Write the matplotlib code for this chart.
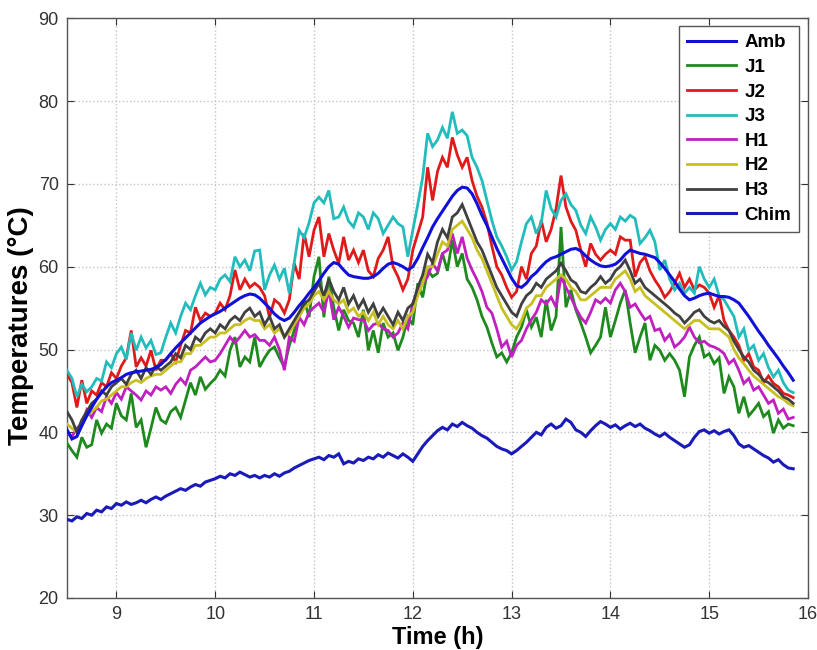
import numpy as np
import matplotlib
matplotlib.use("Agg")
import matplotlib.pyplot as plt

# time grid (h), 0.05 h sampling from 8.50 to 15.85
time_h = np.round(8.5 + 0.05 * np.arange(148), 2)

amb = [40.3, 39.2, 39.5, 40.8, 42.0, 43.0, 44.0, 44.8, 45.5, 46.0,
       46.3, 46.6, 47.0, 47.2, 47.3, 47.4, 47.5, 47.6, 47.8, 48.2,
       48.8, 49.5, 50.2, 50.8, 51.4, 52.0, 52.6, 53.2, 53.6, 54.0,
       54.3, 54.6, 55.0, 55.4, 55.8, 56.2, 56.5, 56.7, 56.6, 56.2,
       55.6, 55.0, 54.3, 53.8, 53.5, 53.8, 54.5, 55.3, 56.0, 56.8,
       57.5, 58.3, 59.2, 60.0, 60.5, 60.3, 59.6, 59.0, 58.8, 58.7,
       58.6, 58.6, 58.8, 59.2, 59.8, 60.3, 60.5, 60.3, 60.0, 59.6,
       60.0, 61.0, 62.3, 63.5, 64.8, 65.8, 66.7, 67.6, 68.5, 69.2,
       69.6, 69.5, 68.8, 67.6, 66.2, 65.0, 63.6, 62.2, 61.0, 59.8,
       58.6, 57.7, 57.5, 58.0, 58.8, 59.3, 60.0, 60.6, 61.0, 61.2,
       61.5, 61.8, 62.1, 62.2, 61.9, 61.3, 60.8, 60.4, 60.1, 60.0,
       60.1, 60.3, 60.8, 61.5, 62.0, 61.8, 61.6, 61.5, 61.3, 61.1,
       60.5, 59.8, 59.0, 58.2, 57.3, 56.5, 56.0, 56.2, 56.5, 56.7,
       56.8, 56.6, 56.4, 56.4, 56.3, 56.0, 55.6, 54.8, 54.0, 53.1,
       52.2, 51.4, 50.5, 49.7, 48.9, 48.0, 47.2, 46.3]

j1 = [38.7, 37.8, 37.0, 39.4, 38.2, 38.5, 41.5, 39.9, 41.0, 40.5,
      43.5, 42.0, 41.5, 44.7, 40.6, 41.5, 38.2, 40.5, 43.0, 41.5,
      41.1, 42.5, 43.0, 41.8, 43.9, 46.0, 44.5, 46.7, 45.2, 45.9,
      46.5, 47.5, 46.8, 49.9, 51.5, 47.9, 49.1, 48.5, 51.5, 47.9,
      49.0, 49.9, 50.3, 49.0, 47.9, 50.5, 52.3, 54.0, 56.0, 53.9,
      58.8, 61.2, 53.9, 58.8, 55.1, 52.3, 54.8, 53.5, 53.2, 51.5,
      54.8, 49.9, 52.3, 49.6, 53.2, 51.5, 52.0, 49.9, 51.5, 53.9,
      53.0, 58.0, 56.3, 59.6, 58.8, 59.2, 61.6, 59.5, 63.2, 60.0,
      61.6, 58.5, 57.5, 56.0, 54.0, 52.7, 50.8, 49.1, 49.6, 48.5,
      49.6, 51.5, 52.7, 54.8, 52.7, 53.9, 51.5, 56.0, 52.3, 54.0,
      64.8, 55.1, 57.2, 54.8, 53.2, 51.5, 49.6, 50.5, 51.5, 55.1,
      51.5, 53.5, 55.6, 57.2, 53.2, 49.6, 51.5, 53.2, 48.7, 50.5,
      49.9, 48.7, 49.5, 48.7, 47.5, 44.3, 49.1, 50.5, 51.5, 49.1,
      49.5, 48.3, 49.0, 44.7, 46.7, 45.5, 42.3, 44.3, 42.0, 42.7,
      43.5, 41.9, 42.5, 39.9, 41.5, 40.5, 41.0, 40.8]

j2 = [47.0, 46.0, 43.0, 46.3, 43.5, 45.0, 44.5, 46.0, 45.5, 47.2,
      46.5, 48.0, 49.0, 52.3, 47.9, 49.0, 48.0, 49.9, 47.5, 48.7,
      48.7, 49.5, 48.5, 50.5, 52.3, 52.0, 55.1, 53.5, 54.4, 54.0,
      54.4, 55.6, 54.8, 56.5, 59.6, 57.2, 58.5, 57.5, 58.0, 57.5,
      56.5, 53.9, 56.0, 55.5, 54.4, 56.0, 60.4, 58.5, 64.0, 61.2,
      64.4, 66.0, 61.2, 64.0, 62.0, 60.4, 63.6, 60.8, 62.0, 60.5,
      62.0, 59.5, 58.8, 61.0, 62.0, 63.6, 60.0, 58.8, 57.2, 58.5,
      62.0, 64.0, 66.0, 72.0, 68.0, 71.5, 73.2, 72.0, 75.6, 73.5,
      72.0, 73.2, 70.4, 68.5, 67.2, 65.3, 62.5, 60.0, 59.0, 57.5,
      56.3, 57.0, 60.0, 58.5, 61.6, 62.5, 65.6, 63.0, 64.5, 67.0,
      71.0, 67.2, 65.5, 64.4, 62.0, 60.0, 62.8, 61.5, 60.8, 61.5,
      62.0, 61.5, 63.6, 63.2, 63.2, 58.8, 60.5, 61.2, 59.5, 58.4,
      57.5, 56.3, 57.0, 58.0, 59.2, 57.5, 58.5, 57.2, 57.8, 57.5,
      56.8, 55.1, 56.5, 53.5, 52.3, 51.5, 50.5, 48.7, 49.5, 47.9,
      47.5, 46.0, 46.8, 45.9, 45.5, 44.7, 44.5, 44.2]

j3 = [47.5, 46.5, 44.3, 45.8, 44.9, 45.5, 46.5, 46.2, 48.5, 47.8,
      49.5, 50.3, 48.8, 52.0, 49.9, 51.5, 50.2, 51.1, 49.4, 49.6,
      51.5, 53.2, 52.0, 54.0, 55.6, 54.8, 56.5, 58.0, 56.6, 57.5,
      57.2, 58.5, 59.0, 58.2, 61.2, 60.0, 60.8, 59.5, 61.9, 62.0,
      57.2, 59.0, 60.2, 58.5, 59.8, 56.8, 60.5, 64.4, 63.5, 65.3,
      67.7, 68.4, 67.7, 69.2, 65.8, 66.0, 67.2, 65.5, 64.8, 66.5,
      66.0, 64.5, 66.5, 65.8, 64.0, 65.0, 66.0, 65.2, 64.8, 61.2,
      64.4, 67.5, 70.8, 76.1, 74.5, 75.3, 76.8, 75.5, 78.7, 76.1,
      76.5, 75.8, 73.2, 72.0, 70.4, 68.0, 65.6, 63.6, 62.5, 61.2,
      59.6, 60.6, 63.0, 65.2, 66.0, 64.0, 65.3, 69.2, 67.0, 66.0,
      68.0, 68.8, 67.5, 66.8, 65.0, 64.0, 66.0, 64.8, 63.2, 64.5,
      65.2, 64.5, 66.0, 65.5, 66.2, 65.8, 62.8, 63.5, 64.4, 63.0,
      59.6, 60.8, 58.5, 57.2, 58.0, 56.8, 57.5, 56.8, 60.0, 58.5,
      57.5, 58.5, 56.5, 56.0, 55.0, 54.0, 51.5, 52.5, 49.9, 50.5,
      48.7, 49.5, 47.8, 46.7, 47.5, 46.0, 45.1, 44.8]

h1 = [40.0, 39.5, 40.5, 41.0, 42.7, 41.8, 43.0, 42.5, 44.3, 43.5,
      44.8, 44.0, 45.5, 45.0, 44.5, 43.9, 45.0, 44.5, 45.5, 45.1,
      45.5, 44.7, 45.8, 46.5, 45.8, 47.5, 47.9, 48.5, 49.1, 48.5,
      48.7, 49.5, 50.5, 51.5, 50.8, 51.5, 52.3, 51.5, 51.8, 51.1,
      51.1, 50.5, 51.5, 50.0, 47.5, 51.5, 51.0, 53.9, 53.0, 54.5,
      55.1, 55.6, 54.5, 57.2, 53.6, 55.1, 54.0, 52.7, 53.8, 53.6,
      53.6, 52.3, 53.0, 53.2, 52.5, 52.3, 51.5, 52.0, 53.2, 52.5,
      55.6, 57.0, 58.0, 58.8, 60.4, 59.5, 61.6, 62.0, 64.0, 61.6,
      63.6, 61.0, 59.6, 58.4, 57.0, 55.1, 54.4, 52.5, 50.3, 51.0,
      49.1, 50.5, 51.1, 52.5, 53.6, 54.5, 56.0, 55.5, 56.3, 55.1,
      58.8, 57.5, 56.3, 55.0, 53.9, 53.2, 54.5, 56.0, 55.6, 56.2,
      55.6, 57.2, 58.0, 57.0, 55.1, 55.5, 54.5, 53.6, 54.0, 52.3,
      52.5, 51.1, 51.8, 50.3, 50.8, 51.5, 52.7, 51.5, 50.8, 51.0,
      50.5, 50.3, 50.0, 49.5, 48.3, 48.8, 47.5, 45.9, 46.5, 45.1,
      45.5, 44.5, 43.5, 43.9, 42.3, 42.8, 41.6, 41.8]

h2 = [41.0, 40.5, 40.0, 41.0, 42.0, 42.5, 43.0, 43.8, 44.0, 44.5,
      45.0, 45.5, 45.5, 46.0, 46.3, 46.0, 46.5, 46.8, 47.0, 47.0,
      47.5, 48.0, 48.5, 48.5, 49.5, 49.5, 50.5, 50.5, 51.0, 51.5,
      51.5, 52.0, 52.0, 52.5, 53.0, 53.0, 53.5, 53.8, 53.5, 53.5,
      52.5, 53.0, 52.0, 52.5, 51.5, 52.0, 53.0, 54.0, 55.0, 55.5,
      56.5, 57.0, 56.0, 57.0, 56.0, 55.5, 56.0, 54.5, 55.0, 54.0,
      54.5, 53.5, 54.5, 53.0, 54.0, 53.0, 52.5, 53.5, 52.5, 54.0,
      54.5, 56.5, 58.0, 60.0, 60.0, 61.5, 63.0, 62.5, 64.5, 65.0,
      65.5, 64.5, 63.5, 62.0, 61.0, 59.5, 58.0, 56.5, 55.0, 54.0,
      53.0, 52.5, 53.5, 55.0, 55.5, 56.5, 56.5, 57.5, 58.0, 58.5,
      59.0, 58.5, 57.5, 57.0, 56.0, 56.0, 56.5, 57.0, 57.5, 57.5,
      57.5, 58.5, 59.0, 59.5, 58.5, 57.0, 57.5, 56.5, 56.0, 55.5,
      55.0, 54.5, 54.0, 53.5, 53.0, 52.5, 53.0, 53.5, 53.5, 53.0,
      52.5, 52.5, 52.5, 52.0, 51.5, 50.0, 49.0, 48.3, 47.5, 46.8,
      46.3, 45.8, 45.3, 44.8, 44.3, 44.0, 43.5, 43.2]

h3 = [42.5, 41.5, 40.0, 41.5, 42.5, 43.5, 44.0, 45.0, 44.5, 45.5,
      46.0, 46.5, 45.8, 47.0, 47.5, 46.5, 47.8, 47.0, 48.0, 47.5,
      48.0, 48.5, 49.5, 49.0, 50.5, 50.0, 51.5, 51.0, 52.0, 52.5,
      52.0, 53.0, 52.5, 53.5, 54.0, 53.5, 54.5, 55.0, 54.0, 54.5,
      53.0, 54.0, 52.5, 53.0, 51.5, 52.5, 53.5, 54.5, 55.5, 56.0,
      57.0, 58.0, 56.5, 58.5, 57.0, 56.0, 57.5, 55.5, 56.5, 55.0,
      56.0, 54.5, 55.5, 54.0, 55.0, 54.0, 53.0, 54.5, 53.5, 55.0,
      55.5, 57.5, 59.0, 61.5, 60.5, 63.0, 64.5, 63.5, 66.0, 66.5,
      67.5, 66.0, 64.5, 63.0, 62.0, 60.5, 59.0, 57.5, 56.5, 55.5,
      54.5, 54.0, 55.5, 56.5, 57.0, 58.0, 57.5, 58.5, 59.0, 59.5,
      60.4, 59.5, 58.4, 58.0, 57.0, 56.8, 57.5, 58.0, 58.8, 58.0,
      58.5, 59.5, 60.0, 60.8, 59.5, 58.0, 58.5, 57.5, 57.0, 56.5,
      56.0, 55.5, 55.0, 54.4, 54.0, 53.2, 53.8, 54.5, 54.8, 54.0,
      53.5, 53.2, 53.5, 52.8, 52.3, 51.0, 50.0, 49.1, 48.5, 47.5,
      47.0, 46.3, 46.0, 45.5, 45.0, 44.3, 44.0, 43.5]

chim = [29.5, 29.3, 29.8, 29.6, 30.2, 30.0, 30.6, 30.4, 31.0, 30.8,
        31.4, 31.2, 31.6, 31.3, 31.5, 31.8, 31.5, 31.9, 32.2, 31.9,
        32.3, 32.6, 32.9, 33.2, 33.0, 33.4, 33.7, 33.5, 34.0, 34.2,
        34.4, 34.7, 34.5, 35.0, 34.8, 35.2, 34.9, 34.6, 34.8, 34.5,
        34.8, 34.6, 35.0, 34.7, 35.1, 35.3, 35.7, 36.0, 36.3, 36.6,
        36.8, 37.0, 36.7, 37.2, 37.0, 37.4, 36.2, 36.5, 36.3, 36.8,
        36.6, 37.0, 36.8, 37.3, 37.0, 37.5, 37.2, 36.9, 37.4, 37.0,
        36.5, 37.4, 38.3, 39.0, 39.6, 40.2, 40.6, 40.3, 41.0, 40.7,
        41.2, 40.8, 40.5, 40.0, 39.6, 39.3, 38.8, 38.3, 38.0, 37.8,
        37.4, 37.8, 38.3, 38.8, 39.4, 40.0, 39.7, 40.6, 41.0, 40.5,
        40.8, 41.6, 41.2, 40.3, 40.0, 39.5, 40.2, 40.8, 41.3, 41.0,
        40.6, 40.9, 40.4, 40.8, 41.1, 40.7, 41.0, 40.5, 40.2, 39.8,
        39.5, 39.9, 39.4, 39.0, 38.6, 38.2, 38.5, 39.4, 40.1, 40.3,
        39.9, 40.2, 39.8, 40.1, 40.3, 39.6, 38.6, 38.2, 38.4, 38.0,
        37.6, 37.2, 36.9, 36.4, 36.7, 36.1, 35.7, 35.6]

series_names = ["Amb", "J1", "J2", "J3", "H1", "H2", "H3", "Chim"]
series_data = [amb, j1, j2, j3, h1, h2, h3, chim]
series_colors = ["#1010d8", "#1e8a1e", "#e01a1a", "#22bcbc",
                 "#c020c0", "#c8c020", "#404040", "#1a1ab8"]

x_ticks = [9, 10, 11, 12, 13, 14, 15, 16]
y_ticks = [20, 30, 40, 50, 60, 70, 80, 90]

tick_family = ["Liberation Sans Narrow", "Liberation Sans", "DejaVu Sans"]
label_family = ["Liberation Sans", "DejaVu Sans"]

fig = plt.figure(figsize=(8.17, 6.5), dpi=100)
ax = fig.add_axes([0.082, 0.080, 0.907, 0.892])

zorders = [10, 3, 4, 5, 6, 7, 8, 9]
for name, vals, col, z in zip(series_names, series_data, series_colors, zorders):
    lw = 2.2 if name in ("Amb", "Chim") else 2.0
    ax.plot(time_h, vals, color=col, lw=lw, label=name, zorder=z,
            solid_joinstyle="miter")

ax.set_xlim(8.5, 16)
ax.set_ylim(20, 90)
ax.set_xticks(x_ticks)
ax.set_yticks(y_ticks)
ax.grid(True, color="#c4c4c4", linestyle=":", linewidth=1.0, zorder=0)
ax.tick_params(direction="in", length=5, width=0.8, top=True, right=True,
               colors="#333333", labelcolor="#333333", pad=6)
for lab in ax.get_xticklabels() + ax.get_yticklabels():
    lab.set_fontfamily(tick_family)
    lab.set_fontsize(13)
for sp in ax.spines.values():
    sp.set_color("#555555")
    sp.set_linewidth(1.0)

ax.set_xlabel("Time (h)", fontsize=17, fontweight="bold",
              family=label_family, labelpad=2)
ax.set_ylabel("Temperatures (°C)", fontsize=20, fontweight="bold",
              family=label_family, labelpad=4)
ax.yaxis.set_label_coords(-0.045, 0.47)

leg = ax.legend(loc="upper right", bbox_to_anchor=(0.988, 0.986),
                borderaxespad=0, fancybox=False, framealpha=1,
                edgecolor="#555555", handlelength=2.6, handletextpad=0.45,
                labelspacing=0.4, borderpad=0.42,
                prop={"family": label_family, "weight": "bold", "size": 13.5})
leg.get_frame().set_linewidth(1.0)
leg.set_zorder(20)

fig.savefig("out.png", dpi=100)
